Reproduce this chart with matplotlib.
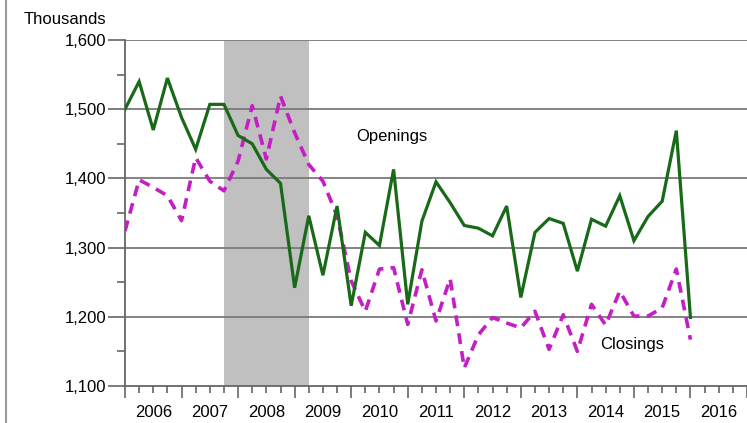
import matplotlib
matplotlib.use("Agg")
import matplotlib.pyplot as plt
from matplotlib.lines import Line2D

plt.rcParams['font.family'] = ['Liberation Sans', 'DejaVu Sans']

# Quarterly data, 2006 Q1 .. 2016 Q1 (thousands)
openings = [1500, 1540, 1470, 1545, 1488, 1442, 1507, 1507, 1462, 1450, 1413, 1393,
            1242, 1346, 1260, 1360, 1216, 1322, 1303, 1413, 1218, 1338, 1395, 1365,
            1332, 1328, 1317, 1360, 1228, 1322, 1342, 1335, 1266, 1341, 1331, 1375,
            1310, 1345, 1367, 1469, 1199]
closings = [1324, 1398, 1387, 1375, 1339, 1430, 1396, 1382, 1425, 1505, 1428, 1519,
            1466, 1420, 1396, 1346, 1252, 1208, 1269, 1271, 1189, 1268, 1194, 1255,
            1126, 1174, 1199, 1191, 1184, 1208, 1153, 1203, 1150, 1218, 1188, 1237,
            1201, 1201, 1213, 1269, 1167]
years = [2006, 2007, 2008, 2009, 2010, 2011, 2012, 2013, 2014, 2015, 2016]
recession = (7, 13)  # 2007 Q4 .. 2009 Q2 (quarter index)
y_ticks = [1100, 1200, 1300, 1400, 1500, 1600]
y_labels = ['1,100', '1,200', '1,300', '1,400', '1,500', '1,600']

W, H = 747, 423
fig = plt.figure(figsize=(W / 100, H / 100), dpi=100)
ax = fig.add_axes([125 / W, (H - 386) / H, 622 / W, 346 / H])

x = list(range(len(openings)))

ax.axvspan(recession[0], recession[1], color='#c0c0c0', zorder=1, lw=0)
for yv in y_ticks[1:]:
    ax.axhline(yv, color='#7a7a7a', lw=1.3, zorder=2)

ax.plot(x, openings, color='#186a18', lw=2.3, zorder=4, solid_joinstyle='miter')
ax.plot(x, closings, color='#c41ec4', lw=2.6, ls=(0, (3.0, 2.0)), zorder=3)

ax.set_xlim(0, 43.56)
ax.set_ylim(1100, 1600)

ax.set_yticks(y_ticks, y_labels)
ax.set_yticks([v + 50 for v in y_ticks[:-1]], minor=True)
ax.tick_params(axis='y', which='major', length=12, width=1.2, color='#666666',
               pad=1.5, labelsize=12)
ax.tick_params(axis='y', which='minor', length=5.5, width=1.2, color='#666666')

nq = 4 * len(years) + 1
ax.set_xticks([4 * k for k in range(len(years) + 1)], [''] * (len(years) + 1))
qlabels = []
for q in range(nq):
    qlabels.append(str(years[q // 4]) if q % 4 == 2 and q // 4 < len(years) else '')
ax.set_xticks(list(range(nq)), qlabels, minor=True)
ax.tick_params(axis='x', which='major', length=8.8, width=1.2, color='#666666')
ax.tick_params(axis='x', which='minor', length=5, width=1.2, color='#666666',
               pad=8.5, labelsize=12)

for s in ['top', 'right']:
    ax.spines[s].set_visible(False)
for s in ['left', 'bottom']:
    ax.spines[s].set_color('#666666')
    ax.spines[s].set_linewidth(1.3)

ax.text(18.9, 1460, 'Openings', fontsize=12, ha='center', va='center', zorder=5)
ax.text(35.9, 1160, 'Closings', fontsize=12, ha='center', va='center', zorder=5)
fig.text(106 / W, 1 - 20 / H, 'Thousands', fontsize=12, ha='right', va='center')

fig.add_artist(Line2D([6 / W, 6 / W], [0, 1], color='#9a9a9a', lw=1.5,
                      transform=fig.transFigure))

fig.savefig('out.png', dpi=100)
